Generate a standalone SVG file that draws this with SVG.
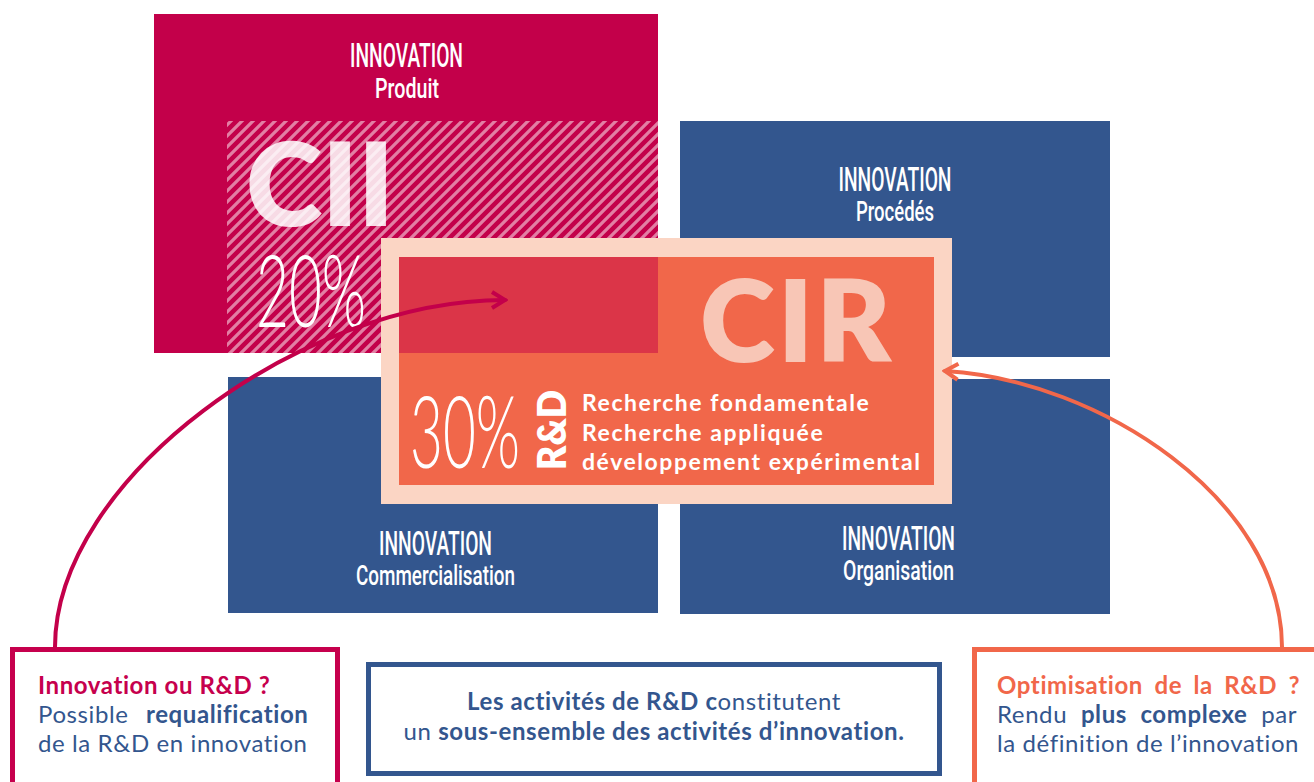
<svg xmlns="http://www.w3.org/2000/svg" width="1314" height="782" viewBox="0 0 1314 782">
  <defs>
    <pattern id="hatch" patternUnits="userSpaceOnUse" width="11" height="11">
      <rect width="11" height="11" fill="#C3004A"/>
      <path d="M-2,13 L13,-2 M-4,4 L4,-4 M7,15 L15,7" stroke="#E27FA4" stroke-width="3.2"/>
    </pattern>
    <marker id="chevM" viewBox="0 0 20 20" refX="17" refY="10" markerWidth="20" markerHeight="20" markerUnits="userSpaceOnUse" orient="auto">
      <path d="M4,2 L17,10 L4,18" fill="none" stroke="#C3004A" stroke-width="4"/>
    </marker>
    <marker id="chevO" viewBox="0 0 20 20" refX="17" refY="10" markerWidth="20" markerHeight="20" markerUnits="userSpaceOnUse" orient="auto">
      <path d="M4,2 L17,10 L4,18" fill="none" stroke="#F1674A" stroke-width="4"/>
    </marker>
  </defs>
  <style>
    .cond { font-family: Roboto, "DejaVu Sans", sans-serif; font-weight: 500; fill: #FFFFFF; text-anchor: middle; }
    .big { font-family: Lato, "Liberation Sans", sans-serif; font-weight: 800; }
    .thin { font-family: Lato, "Liberation Sans", sans-serif; font-weight: 300; fill: #FFFFFF; }
    .body { font-family: Lato, "Liberation Sans", sans-serif; font-size: 24px; letter-spacing: 0.6px; fill: #33568E; }
    .b { font-weight: 700; }
    .conn { fill: none; stroke-width: 4; stroke-linecap: round; }
  </style>

  <rect width="1314" height="782" fill="#FFFFFF"/>

  <!-- Innovation produit (with the CII hatched area) -->
  <g id="innovation-produit">
    <rect x="154" y="14" width="504" height="339" fill="#C3004A"/>
    <rect x="227" y="121" width="431" height="232" fill="url(#hatch)"/>
    <text class="cond" x="406.5" y="67" font-size="34" textLength="113" lengthAdjust="spacingAndGlyphs">INNOVATION</text>
    <text class="cond" x="407" y="98" font-size="27" textLength="64" lengthAdjust="spacingAndGlyphs">Produit</text>
    <text class="big" x="246" y="226" font-size="116" fill="#FFFFFF" fill-opacity="0.86">CII</text>
    <text class="thin" x="256" y="327" font-size="100" textLength="110" lengthAdjust="spacingAndGlyphs">20%</text>
  </g>

  <!-- Innovation procédés -->
  <g id="innovation-procedes">
    <rect x="680" y="121" width="430" height="236" fill="#33568E"/>
    <text class="cond" x="895" y="191" font-size="34" textLength="113" lengthAdjust="spacingAndGlyphs">INNOVATION</text>
    <text class="cond" x="895" y="221" font-size="27" textLength="78" lengthAdjust="spacingAndGlyphs">Procédés</text>
  </g>

  <!-- Innovation commercialisation -->
  <g id="innovation-commercialisation">
    <rect x="228" y="377" width="430" height="236" fill="#33568E"/>
    <text class="cond" x="435.5" y="555" font-size="34" textLength="113" lengthAdjust="spacingAndGlyphs">INNOVATION</text>
    <text class="cond" x="435.5" y="585" font-size="27" textLength="159" lengthAdjust="spacingAndGlyphs">Commercialisation</text>
  </g>

  <!-- Innovation organisation -->
  <g id="innovation-organisation">
    <rect x="680" y="379" width="430" height="235" fill="#33568E"/>
    <text class="cond" x="898.5" y="550" font-size="34" textLength="113" lengthAdjust="spacingAndGlyphs">INNOVATION</text>
    <text class="cond" x="898.5" y="580" font-size="27" textLength="111" lengthAdjust="spacingAndGlyphs">Organisation</text>
  </g>

  <!-- CIR : R&D block -->
  <g id="cir">
    <rect x="381" y="238" width="571" height="266" fill="#FBD5C4"/>
    <rect x="399" y="257" width="535" height="228" fill="#F1674A"/>
    <rect x="399" y="257" width="259" height="96" fill="#DB3548"/>
    <text class="big" x="700" y="362" font-size="114" font-weight="700" fill="#F8C6B6" letter-spacing="3">CIR</text>
    <text class="thin" x="410" y="468" font-size="100" textLength="110" lengthAdjust="spacingAndGlyphs">30%</text>
    <text class="big" transform="translate(566,470) rotate(-90)" font-size="40" font-weight="800" fill="#FFFFFF" textLength="80" lengthAdjust="spacingAndGlyphs">R&amp;D</text>
    <g font-family="Lato, 'Liberation Sans', sans-serif" font-weight="700" font-size="23" letter-spacing="1.55" fill="#FFFFFF">
      <text x="582" y="411">Recherche fondamentale</text>
      <text x="582" y="441">Recherche appliquée</text>
      <text x="582" y="470">développement expérimental</text>
    </g>
  </g>

  <!-- Connectors -->
  <g id="connectors">
    <path class="conn" d="M55,647 C55,480 300,300 505,300" stroke="#C3004A" marker-end="url(#chevM)"/>
    <path class="conn" d="M1282,647 C1282,500 1100,380 945,371" stroke="#F1674A" marker-end="url(#chevO)"/>
  </g>

  <!-- Innovation ou R&D ? -->
  <g id="note-requalification">
    <rect x="12.5" y="649.5" width="325" height="200" fill="#FFFFFF" stroke="#C6004D" stroke-width="5"/>
    <text class="body b" x="38" y="694" style="fill:#C6004D">Innovation ou R&amp;D ?</text>
    <text class="body" x="38" y="723">Possible<tspan class="b" x="146">requalification</tspan></text>
    <text class="body" x="38" y="752">de la R&amp;D en innovation</text>
  </g>

  <!-- Sous-ensemble -->
  <g id="note-sous-ensemble">
    <rect x="368.5" y="664.5" width="571" height="109" fill="#FFFFFF" stroke="#33568E" stroke-width="5"/>
    <text class="body" x="654" y="710" text-anchor="middle"><tspan class="b">Les activités de R&amp;D c</tspan>onstitutent</text>
    <text class="body" x="654" y="740" text-anchor="middle">un <tspan class="b">sous-ensemble des activités d’innovation.</tspan></text>
  </g>

  <!-- Optimisation de la R&D ? -->
  <g id="note-optimisation">
    <rect x="974.5" y="649.5" width="400" height="200" fill="#FFFFFF" stroke="#F1674A" stroke-width="5"/>
    <text class="body b" x="997" y="694" style="fill:#F1674A" word-spacing="5">Optimisation de la R&amp;D ?</text>
    <text class="body" x="997" y="723" word-spacing="7">Rendu <tspan class="b">plus complexe</tspan> par</text>
    <text class="body" x="997" y="752" letter-spacing="0.4">la définition de l’innovation</text>
  </g>
</svg>
